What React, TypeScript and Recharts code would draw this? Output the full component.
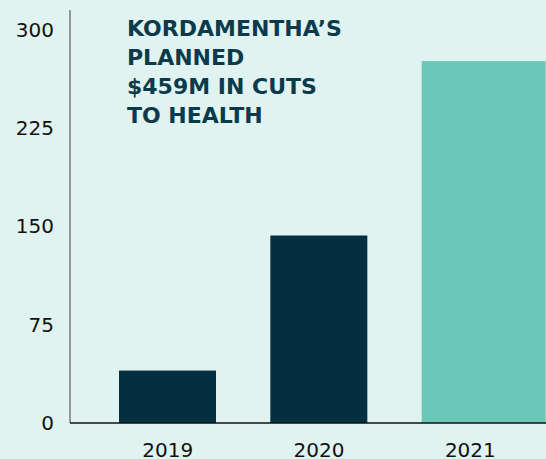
import React from 'react';
import { BarChart, Bar, XAxis, YAxis, Cell } from 'recharts';

const years = ['2019', '2020', '2021'];
const cuts = [40, 143, 276];
const yTicks = [0, 75, 150, 225, 300];
const titleLines = ['KORDAMENTHA’S', 'PLANNED', '$459M IN CUTS', 'TO HEALTH'];

const DARK = '#032f40';
const TEAL = '#6bc8b9';
const BG = '#e0f3f1';
const FONT = '"DejaVu Sans", sans-serif';
const GAP = 27;

const data = years.map((year, i) => ({ year, value: cuts[i] }));
const lastYear = years[years.length - 1];

// last bar runs out to the edge of its band, like the original
const BarShape = (props: any) => {
  const { x, y, width, height, fill, payload } = props;
  const w = payload && payload.year === lastYear ? width + GAP : width;
  return <rect x={x} y={y} width={w} height={height} fill={fill} />;
};

const App: React.FC = () => {
  return (
    <div style={{ position: 'absolute', left: 0, top: 0, width: 546, height: 459, background: BG, overflow: 'hidden' }}>
      <BarChart width={546} height={459} data={data} margin={{ top: 10, right: 0, bottom: 0, left: 0 }} barCategoryGap={GAP}>
        <YAxis
          domain={[0, 315]}
          ticks={yTicks}
          width={70}
          axisLine={{ stroke: '#777', strokeWidth: 1.5 }}
          tickLine={false}
          tickSize={0}
          tickMargin={16}
          tick={{ fill: '#111', fontSize: 20, fontFamily: FONT }}
        />
        <XAxis
          dataKey="year"
          height={36}
          padding={{ left: 22, right: 0 }}
          axisLine={{ stroke: '#111', strokeWidth: 1.5 }}
          tickLine={false}
          tickSize={0}
          tickMargin={20}
          tick={{ fill: '#111', fontSize: 20, fontFamily: FONT }}
        />
        <Bar dataKey="value" barSize={97} isAnimationActive={false} shape={BarShape}>
          {data.map((d, i) => (
            <Cell key={d.year} fill={i === data.length - 1 ? TEAL : DARK} />
          ))}
        </Bar>
      </BarChart>
      <div
        style={{
          position: 'absolute',
          left: 127,
          top: 14,
          fontFamily: FONT,
          fontWeight: 'bold',
          fontSize: 22,
          lineHeight: '29px',
          color: '#0b3a4b',
          whiteSpace: 'nowrap',
        }}
      >
        {titleLines.map((line) => (
          <div key={line}>{line}</div>
        ))}
      </div>
    </div>
  );
};

export default App;
